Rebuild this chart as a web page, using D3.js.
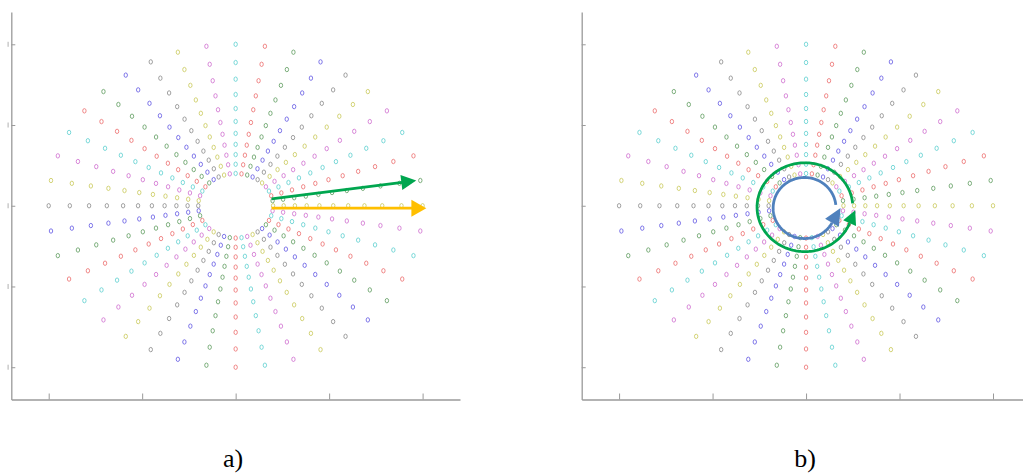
<!DOCTYPE html>
<html>
<head>
<meta charset="utf-8">
<script src="https://cdn.jsdelivr.net/npm/d3@7"></script>
<style>
  html, body { margin: 0; padding: 0; background: #ffffff; }
  svg { display: block; }
</style>
</head>
<body>
<svg id="fig" width="1023" height="473"></svg>
<script>
// Radii of the sample rings along every spoke (normalised units)
const ringRadii = [0.2, 0.257, 0.317, 0.38, 0.448, 0.522, 0.602, 0.689, 0.784, 0.887, 1.0];

// Spoke directions in degrees, counter-clockwise from the +x axis
const spokeAngles = [9, 18, 27, 36, 45, 54, 63, 72, 81, 90,
                     99, 108, 117, 126, 135, 144, 153, 162, 171, 180,
                     189, 198, 207, 216, 225, 234, 243, 252, 261, 270,
                     279, 288, 297, 306, 315, 324, 333, 342, 351, 360];

// Series (plot colour) of each spoke, same order as spokeAngles
const spokeSeries = ["green", "red", "cyan", "magenta", "yellow", "gray", "blue",
                     "green", "red", "cyan", "magenta", "yellow", "gray", "blue",
                     "green", "red", "cyan", "magenta", "yellow", "gray", "blue",
                     "green", "red", "cyan", "magenta", "yellow", "gray", "blue",
                     "green", "red", "cyan", "magenta", "yellow", "gray", "blue",
                     "green", "red", "cyan", "magenta", "yellow"];

// Axis extents and ticks
const axisDomain = [-1.2, 1.2];
const xTicks = [-1, -0.5, 0, 0.5, 1];
const yTicks = [-1, -0.5, 0, 0.5, 1];

// Sub-figure captions
const panelLabels = ["a)", "b)"];

// Panel a: straight arrows (data units)
const radialArrows = [
  { name: "green",  from: [0.192, 0.043],  to: [0.966, 0.156] },
  { name: "yellow", from: [0.192, -0.015], to: [1.02, -0.015] }
];

// Panel b: circular arrows (centre, radii, start / end angle in degrees)
const circularArrows = [
  { name: "blue",  center: [-0.008, -0.014], radii: [0.168, 0.189], startDeg: 6, endDeg: 331 },
  { name: "green", center: [-0.006, -0.009], radii: [0.256, 0.275], startDeg: 5, endDeg: 339 }
];

// ---------- styling ----------
const markerPalette = {
  blue: "#6258e4", green: "#5f9c5f", red: "#ec6d6d", cyan: "#5cd0d0",
  magenta: "#d06ed0", yellow: "#c9c95a", gray: "#8a8a8a"
};
const arrowPalette = { green: "#00a64f", yellow: "#ffbf00", blue: "#4f81bd" };
const arrowHead = {
  a: { green: [15, 15], yellow: [15, 17] },
  b: { blue: [17, 16], green: [14, 14] }
};

const panels = [
  { id: "a", left: 11.3, label: panelLabels[0], labelX: 233, edgeMarks: true },
  { id: "b", left: 581.7, label: panelLabels[1], labelX: 805, edgeMarks: false }
];
const plotW = 448.7, plotTop = 12, plotBottom = 399.5;

const svg = d3.select("#fig");

// Flatten spokes x rings into points
const points = [];
spokeAngles.forEach((deg, i) => {
  const t = deg * Math.PI / 180;
  ringRadii.forEach(r => {
    points.push({ x: r * Math.cos(t), y: r * Math.sin(t), series: spokeSeries[i] });
  });
});

function arrowHeadPath(base, dir, len, wid) {
  const px = -dir[1], py = dir[0];
  const tip = [base[0] + dir[0] * len, base[1] + dir[1] * len];
  const b1 = [base[0] + px * wid / 2, base[1] + py * wid / 2];
  const b2 = [base[0] - px * wid / 2, base[1] - py * wid / 2];
  return `M${tip[0]},${tip[1]}L${b1[0]},${b1[1]}L${b2[0]},${b2[1]}Z`;
}

panels.forEach(p => {
  const x = d3.scaleLinear().domain(axisDomain).range([p.left, p.left + plotW]);
  const y = d3.scaleLinear().domain(axisDomain).range([plotBottom, plotTop]);
  const g = svg.append("g").attr("class", "panel-" + p.id);

  // axes (ticks point inward, no labels)
  const xAxis = d3.axisBottom(x).tickValues(xTicks).tickSizeInner(-6).tickSizeOuter(0).tickFormat("");
  const gx = g.append("g").attr("transform", `translate(0,${plotBottom})`).call(xAxis);
  const yAxis = d3.axisLeft(y).tickValues(yTicks).tickSizeInner(-4).tickSizeOuter(0).tickFormat("");
  const gy = g.append("g").attr("transform", `translate(${p.left},0)`).call(yAxis);
  [gx, gy].forEach(ax => {
    ax.select(".domain").attr("stroke", "#9a9a9a").attr("stroke-width", 1.3);
    ax.selectAll(".tick line").attr("stroke", "#9a9a9a").attr("stroke-width", 1);
  });

  // small marks left of the y ticks at the figure border
  if (p.edgeMarks) {
    g.append("g").selectAll("line").data(yTicks).join("line")
      .attr("x1", p.left - 3.2).attr("x2", p.left - 3.2)
      .attr("y1", d => y(d) - 2.5).attr("y2", d => y(d) + 2.5)
      .attr("stroke", "#b0b0b0").attr("stroke-width", 1);
  }

  // marker cloud
  g.append("g").selectAll("ellipse").data(points).join("ellipse")
    .attr("cx", d => x(d.x)).attr("cy", d => y(d.y))
    .attr("rx", 1.7).attr("ry", 2.2)
    .attr("fill", "none")
    .attr("stroke", d => markerPalette[d.series])
    .attr("stroke-opacity", 0.8)
    .attr("stroke-width", 1);

  // annotations
  const ga = g.append("g");
  if (p.id === "a") {
    radialArrows.forEach(a => {
      const s = [x(a.from[0]), y(a.from[1])];
      const e = [x(a.to[0]), y(a.to[1])];
      const L = Math.hypot(e[0] - s[0], e[1] - s[1]);
      const dir = [(e[0] - s[0]) / L, (e[1] - s[1]) / L];
      const [hl, hw] = arrowHead.a[a.name];
      const base = [e[0] - dir[0] * hl, e[1] - dir[1] * hl];
      ga.append("line")
        .attr("x1", s[0]).attr("y1", s[1]).attr("x2", base[0] + dir[0]).attr("y2", base[1] + dir[1])
        .attr("stroke", arrowPalette[a.name]).attr("stroke-width", 2.8);
      ga.append("path").attr("d", arrowHeadPath(base, dir, hl, hw))
        .attr("fill", arrowPalette[a.name]);
    });
  } else {
    circularArrows.forEach(a => {
      const angs = d3.range(a.startDeg, a.endDeg, 2).concat([a.endDeg]);
      const pts = angs.map(d => {
        const t = d * Math.PI / 180;
        return [x(a.center[0] + a.radii[0] * Math.cos(t)), y(a.center[1] + a.radii[1] * Math.sin(t))];
      });
      ga.append("path").attr("d", d3.line()(pts))
        .attr("fill", "none").attr("stroke", arrowPalette[a.name]).attr("stroke-width", 2.8);
      const n = pts.length;
      const b = pts[n - 1], pb = pts[n - 2];
      const L = Math.hypot(b[0] - pb[0], b[1] - pb[1]);
      const dir = [(b[0] - pb[0]) / L, (b[1] - pb[1]) / L];
      const [hl, hw] = arrowHead.b[a.name];
      ga.append("path").attr("d", arrowHeadPath(b, dir, hl, hw))
        .attr("fill", arrowPalette[a.name]);
    });
  }

  // caption
  svg.append("text")
    .attr("x", p.labelX).attr("y", 467)
    .attr("text-anchor", "middle")
    .attr("font-family", "Liberation Serif, Times New Roman, serif")
    .attr("font-size", 26).attr("fill", "#000")
    .text(p.label);
});
</script>
</body>
</html>
